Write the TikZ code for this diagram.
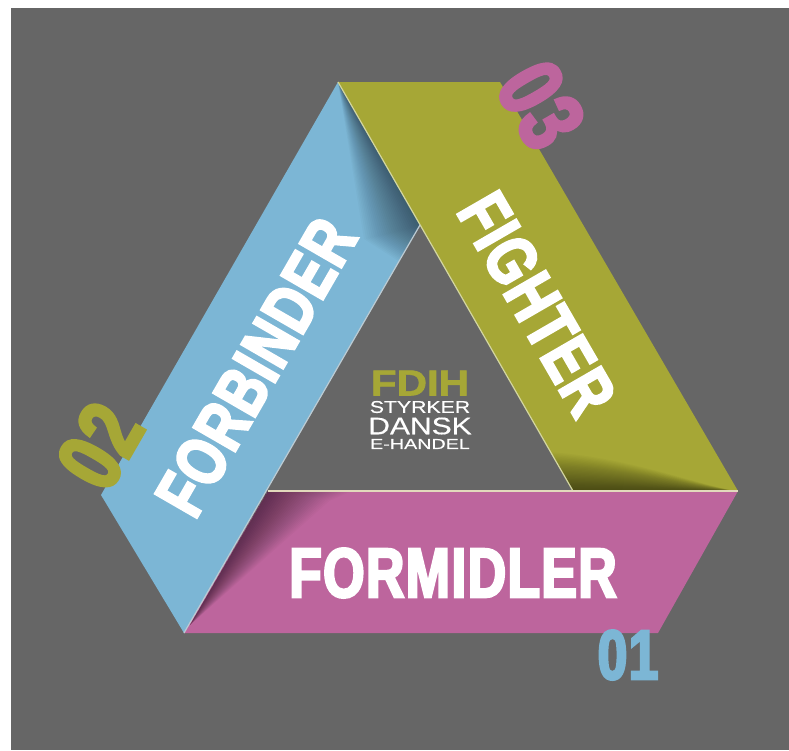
\documentclass[tikz,border=0pt]{standalone}
\usepackage{fontspec}
\newfontfamily\heavyfont[FakeBold=3.5,FakeStretch=0.76,LetterSpace=2]{Liberation Sans Bold}
\newfontfamily\logofont[FakeBold=0.4,FakeStretch=1.25]{Liberation Sans}
\newfontfamily\logobold[FakeBold=2,FakeStretch=1.17]{Liberation Sans Bold}
\definecolor{bandgray}{HTML}{666666}
\definecolor{bandolive}{HTML}{A6A736}
\definecolor{bandblue}{HTML}{7CB6D5}
\definecolor{bandpink}{HTML}{BD659D}
\definecolor{foldcream}{HTML}{E2D9BC}
\definecolor{foldolive}{HTML}{D3D6A0}
\definecolor{foldblue}{HTML}{BCCBD3}
\tikzset{
	bandword/.style={text=white, inner sep=0pt, font=\heavyfont\fontsize{#1}{#1}\selectfont},
	bandnum/.style={inner sep=0pt, font=\heavyfont\fontsize{#1}{#1}\selectfont},
	logoline/.style={text=white, inner sep=0pt, font=\logofont\fontsize{#1}{#1}\selectfont}
}
\begin{document}
\begin{tikzpicture}[x=1pt,y=-1pt]
	\useasboundingbox (0,0) rectangle (789,750);
	\fill[bandgray] (11,8) rectangle (789,750);
	% blue band
	\fill[bandblue] (338,82) -- (101,495) -- (184,633) -- (420,225) -- cycle;
	\begin{scope}
		\clip (338,82) -- (101,495) -- (184,633) -- (420,225) -- cycle;
		\foreach \k in {1,...,28}
			\fill[black, opacity=0.021] (338,82) -- (420,225) -- (420-\k*0.75,225+\k*1.3) -- (420-\k*2,225+\k*0.5) -- cycle;
	\end{scope}
	% pink band
	\fill[bandpink] (268,491) -- (738,491) -- (658,633) -- (184,633) -- cycle;
	\begin{scope}
		\clip (268,491) -- (738,491) -- (658,633) -- (184,633) -- cycle;
		\foreach \k in {1,...,28}
			\fill[black, opacity=0.02] (268,491) -- (190,625) -- (268+\k*2.2,491+\k*0.35) -- (268+\k*3,491) -- cycle;
	\end{scope}
	% olive band
	\fill[bandolive] (338,82) -- (500,82) -- (738,491) -- (573,491) -- cycle;
	\begin{scope}
		\clip (338,82) -- (500,82) -- (738,491) -- (573,491) -- cycle;
		\foreach \k in {1,...,28}
			\fill[black, opacity=0.022] (540,491-\k*1.4) .. controls (620,491-\k*1.3) and (690,491-\k*0.3) .. (735,491) -- (540,491) -- cycle;
	\end{scope}
	% fold edges
	\draw[line width=1.2pt, color=foldolive] (338,82) -- (573,491);
	\draw[line width=1.2pt, color=foldblue] (184,633) -- (420,225);
	\draw[line width=2.4pt, color=foldcream] (268,491) -- (738,491);
	% words
	\node (fighter) at (537,304) [bandword=70, rotate=-60] {FIGHTER};
	\node (forbinder) at (256,367) [bandword=70, rotate=60] {FORBINDER};
	\node (formidler) at (453,573) [bandword=70] {FORMIDLER};
	% numbers
	\node (num01) at (628,655) [bandnum=70, text=bandblue] {01};
	\node (num02) at (100,446) [bandnum=90, text=bandolive, rotate=60] {02};
	\node (num03) at (541,105) [bandnum=92, text=bandpink, rotate=-60] {03};
	% logo
	\node (fdih) at (420,383) [inner sep=0pt, text=bandolive, font=\logobold\fontsize{36}{36}\selectfont] {FDIH};
	\node (styrker) at (420,407) [logoline=17] {STYRKER};
	\node (dansk) at (420,426) [logoline=24] {DANSK};
	\node (handel) at (420,444) [logoline=14.5] {\addfontfeature{FakeStretch=1.36}E-HANDEL};
\end{tikzpicture}
\end{document}
